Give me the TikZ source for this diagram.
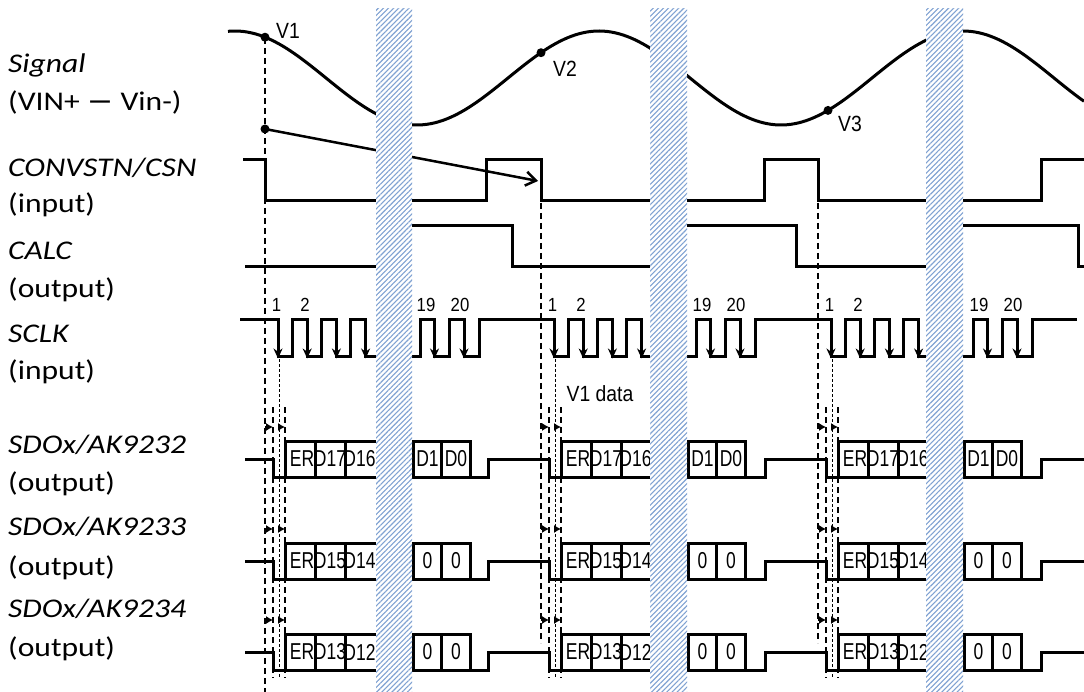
\documentclass[tikz,border=0pt]{standalone}
\usepackage{fontspec}
\usepackage{graphicx}
\setmainfont{Carlito}
\newfontfamily\arialf{Liberation Sans}
\newfontfamily\djv{DejaVu Sans}
\usetikzlibrary{arrows.meta,patterns.meta}
\definecolor{hatch}{RGB}{128,162,210}
\newcommand{\LeftLab}[1]{\scalebox{1.17}[1]{#1}}
\newcommand{\DataLab}[1]{\scalebox{0.76}[1]{#1}}
\newcommand{\WaveLab}[1]{\scalebox{0.88}[1]{#1}}
\begin{document}
\begin{tikzpicture}[x=1pt,y=-1pt,
  wave/.style={line width=3pt, line join=miter},
  vdash/.style={line width=1.4pt, dash pattern=on 6pt off 4pt},
  vdot/.style={line width=1.2pt, dash pattern=on 3pt off 2pt},
  edgearrow/.style={line width=3pt, -{Stealth[length=10pt,width=9pt]}},
  tarrow/.style={line width=1.2pt, -{Latex[length=7pt,width=8pt]}},
  lab/.style={anchor=base west, inner sep=0pt, font=\fontsize{27}{30}\selectfont},
  dlab/.style={inner sep=0pt, font=\arialf\fontsize{23}{26}\selectfont},
  wlab/.style={inner sep=0pt, font=\arialf\fontsize{22}{26}\selectfont},
  nlab/.style={inner sep=0pt, font=\arialf\fontsize{19}{22}\selectfont},
  hbar/.style={fill=white, postaction={pattern={Lines[angle=45,distance=3.6pt,line width=1.1pt]}, pattern color=hatch}},
  vdotnode/.style={circle, fill=black, inner sep=0pt, minimum size=9pt},
]
\useasboundingbox (0,0) rectangle (1084,692);

% ---------- left labels ----------
\node[lab] (l1) at (8,73) {\LeftLab{\itshape Signal}};
\node[lab] (l2) at (8,111) {\LeftLab{(VIN+ {\djv −} Vin-)}};
\node[lab] (l3) at (8,177) {\LeftLab{\itshape CONVSTN/CSN}};
\node[lab] (l4) at (8,213) {\LeftLab{(input)}};
\node[lab] (l5) at (8,260) {\LeftLab{\itshape CALC}};
\node[lab] (l6) at (8,298) {\LeftLab{(output)}};
\node[lab] (l7) at (8,343) {\LeftLab{\itshape SCLK}};
\node[lab] (l8) at (8,380) {\LeftLab{(input)}};
\node[lab] (l9) at (8,453) {\LeftLab{\itshape SDOx/AK9232}};
\node[lab] (l10) at (8,491) {\LeftLab{(output)}};
\node[lab] (l11) at (8,535) {\LeftLab{\itshape SDOx/AK9233}};
\node[lab] (l12) at (8,575) {\LeftLab{(output)}};
\node[lab] (l13) at (8,617) {\LeftLab{\itshape SDOx/AK9234}};
\node[lab] (l14) at (8,656) {\LeftLab{(output)}};

% ---------- dashed guide lines ----------
\draw[vdash] (265,38) -- (265,692);
\draw[vdash] (541,203) -- (541,643);
\draw[vdash] (818,203) -- (818,643);
\foreach \cx in {265,541,818} {
  \draw[vdash] ({\cx+8},407) -- ({\cx+8},678);
  \draw[vdash] ({\cx+20},407) -- ({\cx+20},678);
  \draw[vdot] ({\cx+14.5},359) -- ({\cx+14.5},678);
}

% ---------- analog signal ----------
\draw[line width=3pt] plot[domain=228:1084, samples=220, smooth] (\x, {78-47*cos(0.989011*(\x-235))});
\node[vdotnode] (v1) at (265,37.2) {};
\node[vdotnode] (v2) at (541,52.7) {};
\node[vdotnode] (v3) at (828,110.4) {};
\node[wlab] (v1t) at (288,31) {\WaveLab{V1}};
\node[wlab] (v2t) at (565,69) {\WaveLab{V2}};
\node[wlab] (v3t) at (850,124) {\WaveLab{V3}};

% ---------- V1 sampled arrow ----------
\node[vdotnode] (s0) at (265,129) {};
\coordinate (csfall) at (538,181);
\draw[line width=2.5pt, -{Straight Barb[length=10pt,width=14pt]}] (s0.center) -- (csfall);

% ---------- CONVSTN/CSN ----------
\draw[wave] (243,160) foreach \cx/\bl/\br/\rs in {265/376/412/486, 541/650/687/764, 818/926/963/1041} {
  -- (\cx,160) -- (\cx,201) -- ({\bl+2},201) (\br,201) -- (\rs,201) -- (\rs,160) } -- (1084,160);

% ---------- CALC ----------
\draw[wave] (245,267) -- (378,267) (412,226) -- (512,226) -- (512,267) -- (652,267)
  (687,226) -- (796,226) -- (796,267) -- (928,267)
  (963,226) -- (1078,226) -- (1078,267) -- (1084,267);

% ---------- SCLK ----------
\draw[wave] (240,320) foreach \cx/\bl/\br in {265/376/412, 541/650/687, 818/926/963} {
  -- ({\cx+13},320) -- ({\cx+13},357) -- ({\cx+27},357) -- ({\cx+27},320)
  -- ({\cx+42.2},320) -- ({\cx+42.2},357) -- ({\cx+56.2},357) -- ({\cx+56.2},320)
  -- ({\cx+71.4},320) -- ({\cx+71.4},357) -- ({\cx+85.4},357) -- ({\cx+85.4},320)
  -- ({\cx+100.6},320) -- ({\cx+100.6},357) -- ({\bl+2},357)
  (\br,357) -- ({\cx+155},357) -- ({\cx+155},320) -- ({\cx+169.5},320) -- ({\cx+169.5},357)
  -- ({\cx+184.5},357) -- ({\cx+184.5},320) -- ({\cx+199},320) -- ({\cx+199},357)
  -- ({\cx+214},357) -- ({\cx+214},320) } -- (1077,320);
\foreach \cx in {265,541,818} {
  \foreach \f in {13,42.2,71.4,100.6,169.5,199} {
    \draw[edgearrow] ({\cx+\f},321) -- ({\cx+\f},358.5);
  }
  \node[nlab] (n1-\cx) at ({\cx+11.5},305) {\WaveLab{1}};
  \node[nlab] (n2-\cx) at ({\cx+40},305) {\WaveLab{2}};
  \node[nlab] (n19-\cx) at ({\cx+161},305) {\WaveLab{19}};
  \node[nlab] (n20-\cx) at ({\cx+195},305) {\WaveLab{20}};
}
\node[wlab] (v1data) at (600,394) {\WaveLab{V1 data}};

% ---------- SDO rows ----------
\foreach \T/\a/\b/\p/\q in {441/D17/D16/D1/D0, 543/D15/D14/0/0, 634/D13/D12/0/0} {
  \draw[wave] (245,{\T+18}) foreach \cx/\bl/\br/\rs in {265/376/412/488, 541/650/687/765, 818/926/963/1041} {
    -- ({\cx+8},{\T+18}) -- ({\cx+8},{\T+36}) -- ({\bl+2},{\T+36})
    ({\br+1.5},{\T+36}) -- (\rs,{\T+36}) -- (\rs,{\T+18}) } -- (1084,{\T+18});
  \foreach \cx/\bl/\br in {265/376/412, 541/650/687, 818/926/963} {
    \draw[wave] ({\bl+2},\T) -- ({\cx+20},\T) -- ({\cx+20},{\T+36});
    \draw[wave] ({\cx+50},\T) -- ({\cx+50},{\T+36});
    \draw[wave] ({\cx+80},\T) -- ({\cx+80},{\T+36});
    \draw[wave] ({\br+1.5},\T) rectangle ({\br+58.5},{\T+36});
    \draw[wave] ({\br+29.5},\T) -- ({\br+29.5},{\T+36});
    \node[dlab] (er-\T-\cx) at ({\cx+37},{\T+18}) {\DataLab{ER}};
    \node[dlab] (da-\T-\cx) at ({\cx+65},{\T+18}) {\DataLab{\a}};
    \node[dlab] (db-\T-\cx) at ({\cx+94.5},{\T+18}) {\DataLab{\b}};
    \node[dlab] (dp-\T-\cx) at ({\br+15.5},{\T+18}) {\DataLab{\p}};
    \node[dlab] (dq-\T-\cx) at ({\br+44},{\T+18}) {\DataLab{\q}};
    \draw[tarrow] (\cx,{\T-14}) -- ({\cx+8},{\T-14});
    \draw[tarrow] ({\cx+14.5},{\T-14}) -- ({\cx+20},{\T-14});
  }
}

% ---------- time-break bars ----------
\foreach \bl/\br in {376/412, 650/687, 926/963} {
  \path[hbar] (\bl,9) rectangle (\br,692);
}
\end{tikzpicture}
\end{document}
